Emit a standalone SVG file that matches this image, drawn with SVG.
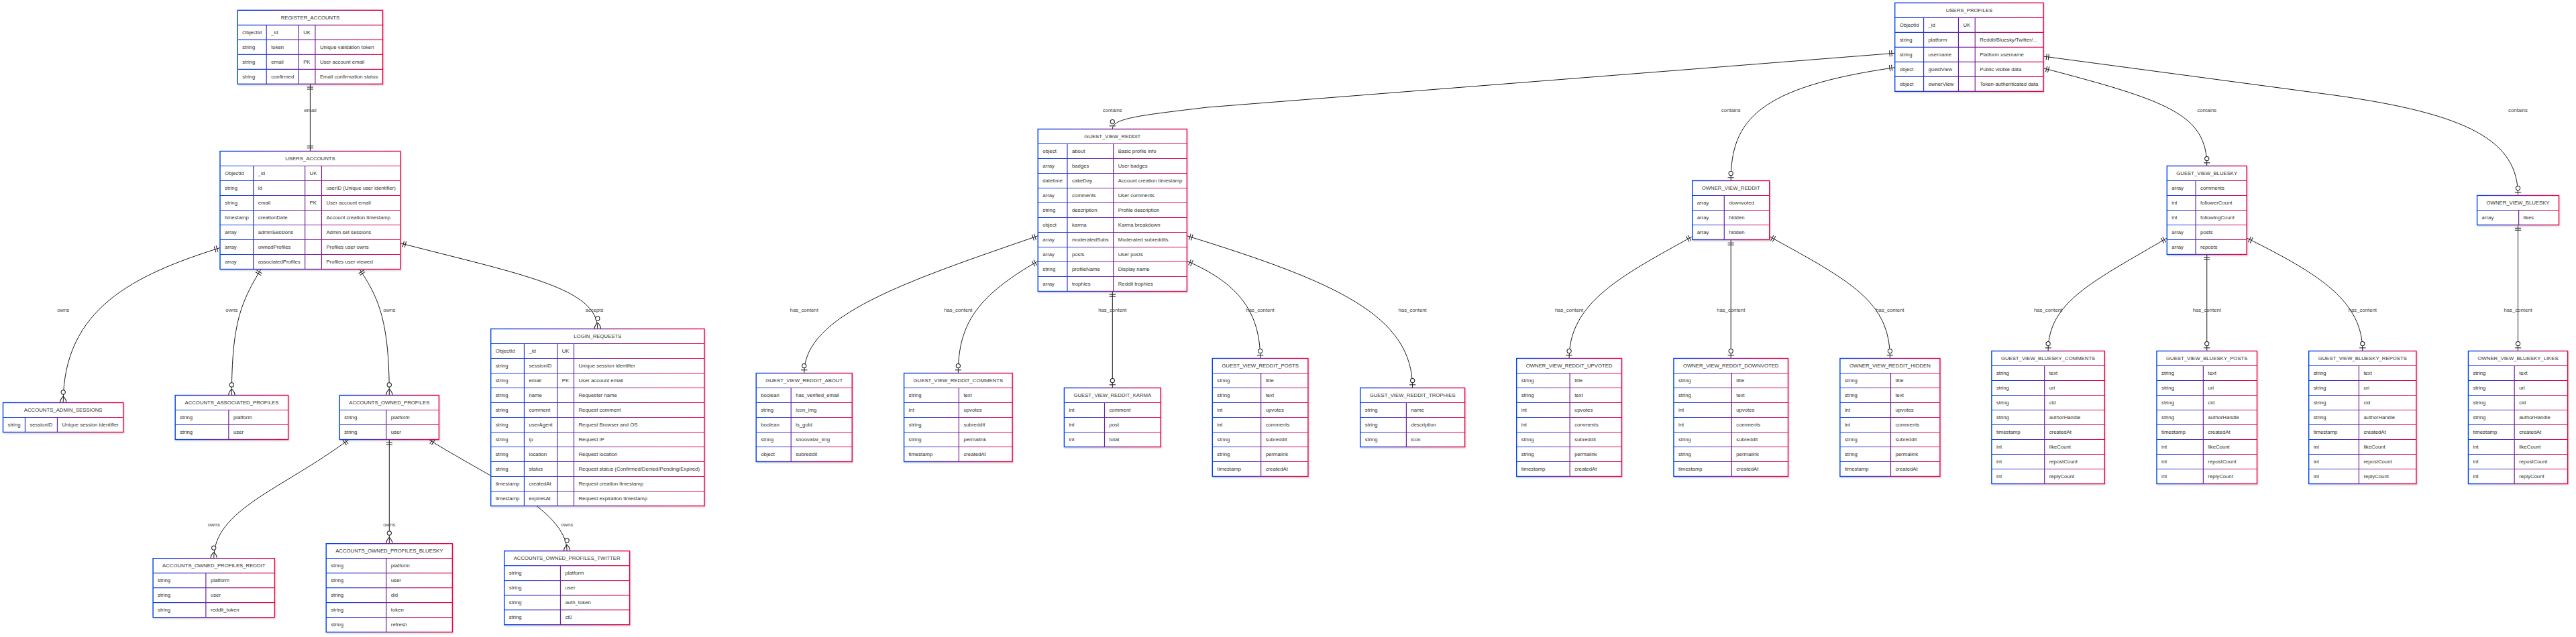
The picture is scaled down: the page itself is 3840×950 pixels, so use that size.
<svg xmlns="http://www.w3.org/2000/svg" width="3840" height="950" viewBox="0 0 3840 950">
<defs>
<style>
.b{fill:#fff;stroke-width:1.4;filter:url(#sh)}
.l{fill:none;stroke-width:1.2}
text{font-family:"Liberation Sans",Arial,Helvetica,sans-serif;font-size:7.75px;fill:#333;dominant-baseline:central}
.h{text-anchor:middle}
.e{fill:none;stroke:#1a1a1a;stroke-width:1}
.lb{text-anchor:middle;fill:#444}
.m{stroke:#1a1a1a;stroke-width:2;fill:none}
.mc{stroke:#1a1a1a;stroke-width:2;fill:#fff}
</style>
<linearGradient id="gb"><stop offset="0" stop-color="#0042eb"/><stop offset="1" stop-color="#eb0042"/></linearGradient>
<linearGradient id="gRA" href="#gb" gradientUnits="userSpaceOnUse" x1="354.3" y1="0" x2="570.5" y2="0"/>
<linearGradient id="gUA" href="#gb" gradientUnits="userSpaceOnUse" x1="328" y1="0" x2="596.8" y2="0"/>
<linearGradient id="gAS" href="#gb" gradientUnits="userSpaceOnUse" x1="4.5" y1="0" x2="183.85" y2="0"/>
<linearGradient id="gAP" href="#gb" gradientUnits="userSpaceOnUse" x1="261.2" y1="0" x2="429.6" y2="0"/>
<linearGradient id="gOP" href="#gb" gradientUnits="userSpaceOnUse" x1="506.25" y1="0" x2="654.35" y2="0"/>
<linearGradient id="gLR" href="#gb" gradientUnits="userSpaceOnUse" x1="731.7" y1="0" x2="1050" y2="0"/>
<linearGradient id="gOR" href="#gb" gradientUnits="userSpaceOnUse" x1="228.1" y1="0" x2="409.4" y2="0"/>
<linearGradient id="gOB" href="#gb" gradientUnits="userSpaceOnUse" x1="486.2" y1="0" x2="674.4" y2="0"/>
<linearGradient id="gOT" href="#gb" gradientUnits="userSpaceOnUse" x1="751.7" y1="0" x2="938.6" y2="0"/>
<linearGradient id="gUP" href="#gb" gradientUnits="userSpaceOnUse" x1="2824.7" y1="0" x2="3046.1" y2="0"/>
<linearGradient id="gGR" href="#gb" gradientUnits="userSpaceOnUse" x1="1547.26" y1="0" x2="1769.34" y2="0"/>
<linearGradient id="gOVR" href="#gb" gradientUnits="userSpaceOnUse" x1="2522.7" y1="0" x2="2637.7" y2="0"/>
<linearGradient id="gGB" href="#gb" gradientUnits="userSpaceOnUse" x1="3230.3" y1="0" x2="3349.2" y2="0"/>
<linearGradient id="gOVB" href="#gb" gradientUnits="userSpaceOnUse" x1="3692.6" y1="0" x2="3814.5" y2="0"/>
<linearGradient id="gAB" href="#gb" gradientUnits="userSpaceOnUse" x1="1127.2" y1="0" x2="1270.2" y2="0"/>
<linearGradient id="gGC" href="#gb" gradientUnits="userSpaceOnUse" x1="1347.6" y1="0" x2="1509.1" y2="0"/>
<linearGradient id="gGK" href="#gb" gradientUnits="userSpaceOnUse" x1="1586.4" y1="0" x2="1730.2" y2="0"/>
<linearGradient id="gGP" href="#gb" gradientUnits="userSpaceOnUse" x1="1807.3" y1="0" x2="1949.9" y2="0"/>
<linearGradient id="gGT" href="#gb" gradientUnits="userSpaceOnUse" x1="2027.7" y1="0" x2="2183.6" y2="0"/>
<linearGradient id="gUV" href="#gb" gradientUnits="userSpaceOnUse" x1="2260.7" y1="0" x2="2417.45" y2="0"/>
<linearGradient id="gDV" href="#gb" gradientUnits="userSpaceOnUse" x1="2494.94" y1="0" x2="2665.46" y2="0"/>
<linearGradient id="gHD" href="#gb" gradientUnits="userSpaceOnUse" x1="2742.9" y1="0" x2="2891.9" y2="0"/>
<linearGradient id="gBC" href="#gb" gradientUnits="userSpaceOnUse" x1="2968.9" y1="0" x2="3137.3" y2="0"/>
<linearGradient id="gBP" href="#gb" gradientUnits="userSpaceOnUse" x1="3215.02" y1="0" x2="3364.48" y2="0"/>
<linearGradient id="gBR" href="#gb" gradientUnits="userSpaceOnUse" x1="3441.69" y1="0" x2="3601.91" y2="0"/>
<linearGradient id="gBL" href="#gb" gradientUnits="userSpaceOnUse" x1="3679.47" y1="0" x2="3827.63" y2="0"/>
<filter id="sh" x="-10%" y="-10%" width="125%" height="125%"><feDropShadow dx="1" dy="1.5" stdDeviation="1" flood-color="#000" flood-opacity="0.18"/></filter>
<marker id="oneS" viewBox="0 0 18 18" markerUnits="userSpaceOnUse" markerWidth="9.36" markerHeight="9.36" refX="0" refY="9" orient="auto" overflow="visible"><path class="m" d="M9,0 L9,18 M15,0 L15,18"/></marker>
<marker id="oneE" viewBox="0 0 18 18" markerUnits="userSpaceOnUse" markerWidth="9.36" markerHeight="9.36" refX="18" refY="9" orient="auto" overflow="visible"><path class="m" d="M3,0 L3,18 M9,0 L9,18"/></marker>
<marker id="zoE" viewBox="0 0 30 18" markerUnits="userSpaceOnUse" markerWidth="15.6" markerHeight="9.36" refX="30" refY="9" orient="auto" overflow="visible"><circle class="mc" cx="9" cy="9" r="6"/><path class="m" d="M21,0 L21,18"/></marker>
<marker id="zmE" viewBox="0 0 57 36" markerUnits="userSpaceOnUse" markerWidth="29.64" markerHeight="18.72" refX="39" refY="18" orient="auto" overflow="visible"><circle class="mc" cx="9" cy="18" r="6"/><path class="m" d="M21,18 Q39,0 57,18 Q39,36 21,18"/></marker>
</defs>
<rect width="3840" height="950" fill="#fff"/>

<g id="connectors">
<path class="e" d="M462.4 125.3V225.5" marker-start="url(#oneS)" marker-end="url(#oneE)"/>
<path class="e" d="M328 369.5C200 410 94.2 460 94.2 600.5" marker-start="url(#oneS)" marker-end="url(#zmE)"/>
<path class="e" d="M389 401.5C360 450 345.4 480 345.4 589.5" marker-start="url(#oneS)" marker-end="url(#zmE)"/>
<path class="e" d="M536 401.5C565 445 580.3 480 580.3 589.5" marker-start="url(#oneS)" marker-end="url(#zmE)"/>
<path class="e" d="M596.8 362.7C780 410 890.85 430 890.85 490.5" marker-start="url(#oneS)" marker-end="url(#zmE)"/>
<path class="e" d="M520 655.5C420 730 318.75 760 318.75 832.7" marker-start="url(#oneS)" marker-end="url(#zmE)"/>
<path class="e" d="M580.3 655.5V810.7" marker-start="url(#oneS)" marker-end="url(#zmE)"/>
<path class="e" d="M639.3 655.5C720 707 845.15 760 845.15 821.7" marker-start="url(#oneS)" marker-end="url(#zmE)"/>
<path class="e" d="M2824.7 79.3L1800 160C1700 172 1658.3 176 1658.3 192.5" marker-start="url(#oneS)" marker-end="url(#zoE)"/>
<path class="e" d="M2824.7 100.7C2620 130 2580.2 180 2580.2 269.5" marker-start="url(#oneS)" marker-end="url(#zoE)"/>
<path class="e" d="M3046.1 84L3480 142C3680 170 3753.55 210 3753.55 291.5" marker-start="url(#oneS)" marker-end="url(#zoE)"/>
<path class="e" d="M3046.1 101.7C3230 150 3289.75 170 3289.75 247.5" marker-start="url(#oneS)" marker-end="url(#zoE)"/>
<path class="e" d="M1547.26 351.7C1350 420 1198.7 470 1198.7 556.5" marker-start="url(#oneS)" marker-end="url(#zoE)"/>
<path class="e" d="M1547.26 389.3C1460 440 1428.35 480 1428.35 556.5" marker-start="url(#oneS)" marker-end="url(#zoE)"/>
<path class="e" d="M1658.3 434.5V578.5" marker-start="url(#oneS)" marker-end="url(#zoE)"/>
<path class="e" d="M1769.34 389.3C1840 420 1878.6 460 1878.6 534.5" marker-start="url(#oneS)" marker-end="url(#zoE)"/>
<path class="e" d="M1769.34 351.7C1990 420 2105.65 470 2105.65 578.5" marker-start="url(#oneS)" marker-end="url(#zoE)"/>
<path class="e" d="M2522.7 352.7C2420 410 2339.1 450 2339.1 534.5" marker-start="url(#oneS)" marker-end="url(#zoE)"/>
<path class="e" d="M2580.2 357.5V534.5" marker-start="url(#oneS)" marker-end="url(#zoE)"/>
<path class="e" d="M2637.7 352.7C2760 420 2817.4 450 2817.4 534.5" marker-start="url(#oneS)" marker-end="url(#zoE)"/>
<path class="e" d="M3230.3 355C3120 420 3053.1 450 3053.1 523.5" marker-start="url(#oneS)" marker-end="url(#zoE)"/>
<path class="e" d="M3289.75 379.5V523.5" marker-start="url(#oneS)" marker-end="url(#zoE)"/>
<path class="e" d="M3349.2 355C3460 410 3521.8 450 3521.8 523.5" marker-start="url(#oneS)" marker-end="url(#zoE)"/>
<path class="e" d="M3753.55 335.5V523.5" marker-start="url(#oneS)" marker-end="url(#zoE)"/>
<text class="lb" x="462.4" y="164.7">email</text>
<text class="lb" x="94.2" y="462.5">owns</text>
<text class="lb" x="345.4" y="462.5">owns</text>
<text class="lb" x="580.3" y="462.5">owns</text>
<text class="lb" x="886" y="462.5">accepts</text>
<text class="lb" x="318.75" y="782.7">owns</text>
<text class="lb" x="580.3" y="782.7">owns</text>
<text class="lb" x="845.15" y="782.7">owns</text>
<text class="lb" x="1658.3" y="164.7">contains</text>
<text class="lb" x="2580.2" y="164.7">contains</text>
<text class="lb" x="3289.75" y="164.7">contains</text>
<text class="lb" x="3753.55" y="164.7">contains</text>
<text class="lb" x="1198.7" y="462.5">has_content</text>
<text class="lb" x="1428.35" y="462.5">has_content</text>
<text class="lb" x="1658.3" y="462.5">has_content</text>
<text class="lb" x="1878.6" y="462.5">has_content</text>
<text class="lb" x="2105.65" y="462.5">has_content</text>
<text class="lb" x="2339.1" y="462.5">has_content</text>
<text class="lb" x="2580.2" y="462.5">has_content</text>
<text class="lb" x="2817.4" y="462.5">has_content</text>
<text class="lb" x="3053.1" y="462.5">has_content</text>
<text class="lb" x="3289.75" y="462.5">has_content</text>
<text class="lb" x="3521.8" y="462.5">has_content</text>
<text class="lb" x="3753.55" y="462.5">has_content</text>
</g>

<g id="REGISTER_ACCOUNTS">
<rect class="b" x="354.3" y="15.3" width="216.2" height="110" stroke="url(#gRA)"/>
<path class="l" stroke="url(#gRA)" d="M354.3 37.3H570.5M354.3 59.3H570.5M354.3 81.3H570.5M354.3 103.3H570.5M397.2 37.3V125.3M445.2 37.3V125.3M469.9 37.3V125.3"/>
<text class="h" x="462.4" y="26.3">REGISTER_ACCOUNTS</text>
<text x="361.3" y="48.3">ObjectId</text><text x="404.2" y="48.3">_id</text><text x="452.2" y="48.3">UK</text>
<text x="361.3" y="70.3">string</text><text x="404.2" y="70.3">token</text><text x="476.9" y="70.3">Unique validation token</text>
<text x="361.3" y="92.3">string</text><text x="404.2" y="92.3">email</text><text x="452.2" y="92.3">PK</text><text x="476.9" y="92.3">User account email</text>
<text x="361.3" y="114.3">string</text><text x="404.2" y="114.3">confirmed</text><text x="476.9" y="114.3">Email confirmation status</text>
</g>

<g id="USERS_ACCOUNTS">
<rect class="b" x="328" y="225.5" width="268.8" height="176" stroke="url(#gUA)"/>
<path class="l" stroke="url(#gUA)" d="M328 247.5H596.8M328 269.5H596.8M328 291.5H596.8M328 313.5H596.8M328 335.5H596.8M328 357.5H596.8M328 379.5H596.8M377.74 247.5V401.5M454.64 247.5V401.5M479.4 247.5V401.5"/>
<text class="h" x="462.4" y="236.5">USERS_ACCOUNTS</text>
<text x="335" y="258.5">ObjectId</text><text x="384.7" y="258.5">_id</text><text x="461.6" y="258.5">UK</text>
<text x="335" y="280.5">string</text><text x="384.7" y="280.5">id</text><text x="486.4" y="280.5">userID (Unique user identifier)</text>
<text x="335" y="302.5">string</text><text x="384.7" y="302.5">email</text><text x="461.6" y="302.5">PK</text><text x="486.4" y="302.5">User account email</text>
<text x="335" y="324.5">timestamp</text><text x="384.7" y="324.5">creationDate</text><text x="486.4" y="324.5">Account creation timestamp</text>
<text x="335" y="346.5">array</text><text x="384.7" y="346.5">adminSessions</text><text x="486.4" y="346.5">Admin set sessions</text>
<text x="335" y="368.5">array</text><text x="384.7" y="368.5">ownedProfiles</text><text x="486.4" y="368.5">Profiles user owns</text>
<text x="335" y="390.5">array</text><text x="384.7" y="390.5">associatedProfiles</text><text x="486.4" y="390.5">Profiles user viewed</text>
</g>

<g id="ACCOUNTS_ADMIN_SESSIONS">
<rect class="b" x="4.5" y="600.5" width="179.35" height="44" stroke="url(#gAS)"/>
<path class="l" stroke="url(#gAS)" d="M4.5 622.5H183.85M37.45 622.5V644.5M85.45 622.5V644.5"/>
<text class="h" x="94.2" y="611.5">ACCOUNTS_ADMIN_SESSIONS</text>
<text x="11.5" y="633.5">string</text><text x="44.45" y="633.5">sessionID</text><text x="92.45" y="633.5">Unique session identifier</text>
</g>

<g id="ACCOUNTS_ASSOCIATED_PROFILES">
<rect class="b" x="261.2" y="589.5" width="168.4" height="66" stroke="url(#gAP)"/>
<path class="l" stroke="url(#gAP)" d="M261.2 611.5H429.6M261.2 633.5H429.6M340.87 611.5V655.5"/>
<text class="h" x="345.4" y="600.5">ACCOUNTS_ASSOCIATED_PROFILES</text>
<text x="268.2" y="622.5">string</text><text x="347.9" y="622.5">platform</text>
<text x="268.2" y="644.5">string</text><text x="347.9" y="644.5">user</text>
</g>

<g id="ACCOUNTS_OWNED_PROFILES">
<rect class="b" x="506.25" y="589.5" width="148.1" height="66" stroke="url(#gOP)"/>
<path class="l" stroke="url(#gOP)" d="M506.25 611.5H654.35M506.25 633.5H654.35M575.8 611.5V655.5"/>
<text class="h" x="580.3" y="600.5">ACCOUNTS_OWNED_PROFILES</text>
<text x="513.25" y="622.5">string</text><text x="582.8" y="622.5">platform</text>
<text x="513.25" y="644.5">string</text><text x="582.8" y="644.5">user</text>
</g>

<g id="LOGIN_REQUESTS">
<rect class="b" x="731.7" y="490.5" width="318.3" height="264" stroke="url(#gLR)"/>
<path class="l" stroke="url(#gLR)" d="M731.7 512.5H1050M731.7 534.5H1050M731.7 556.5H1050M731.7 578.5H1050M731.7 600.5H1050M731.7 622.5H1050M731.7 644.5H1050M731.7 666.5H1050M731.7 688.5H1050M731.7 710.5H1050M731.7 732.5H1050M781.44 512.5V754.5M830.76 512.5V754.5M855.52 512.5V754.5"/>
<text class="h" x="890.85" y="501.5">LOGIN_REQUESTS</text>
<text x="738.7" y="523.5">ObjectId</text><text x="788.44" y="523.5">_id</text><text x="837.76" y="523.5">UK</text>
<text x="738.7" y="545.5">string</text><text x="788.44" y="545.5">sessionID</text><text x="862.52" y="545.5">Unique session identifier</text>
<text x="738.7" y="567.5">string</text><text x="788.44" y="567.5">email</text><text x="837.76" y="567.5">PK</text><text x="862.52" y="567.5">User account email</text>
<text x="738.7" y="589.5">string</text><text x="788.44" y="589.5">name</text><text x="862.52" y="589.5">Requester name</text>
<text x="738.7" y="611.5">string</text><text x="788.44" y="611.5">comment</text><text x="862.52" y="611.5">Request comment</text>
<text x="738.7" y="633.5">string</text><text x="788.44" y="633.5">userAgent</text><text x="862.52" y="633.5">Request Browser and OS</text>
<text x="738.7" y="655.5">string</text><text x="788.44" y="655.5">ip</text><text x="862.52" y="655.5">Request IP</text>
<text x="738.7" y="677.5">string</text><text x="788.44" y="677.5">location</text><text x="862.52" y="677.5">Request location</text>
<text x="738.7" y="699.5">string</text><text x="788.44" y="699.5">status</text><text x="862.52" y="699.5">Request status (Confirmed/Denied/Pending/Expired)</text>
<text x="738.7" y="721.5">timestamp</text><text x="788.44" y="721.5">createdAt</text><text x="862.52" y="721.5">Request creation timestamp</text>
<text x="738.7" y="743.5">timestamp</text><text x="788.44" y="743.5">expiresAt</text><text x="862.52" y="743.5">Request expiration timestamp</text>
</g>

<g id="ACCOUNTS_OWNED_PROFILES_REDDIT">
<rect class="b" x="228.1" y="832.7" width="181.3" height="88" stroke="url(#gOR)"/>
<path class="l" stroke="url(#gOR)" d="M228.1 854.7H409.4M228.1 876.7H409.4M228.1 898.7H409.4M306.9 854.7V920.7"/>
<text class="h" x="318.75" y="843.7">ACCOUNTS_OWNED_PROFILES_REDDIT</text>
<text x="235.1" y="865.7">string</text><text x="313.9" y="865.7">platform</text>
<text x="235.1" y="887.7">string</text><text x="313.9" y="887.7">user</text>
<text x="235.1" y="909.7">string</text><text x="313.9" y="909.7">reddit_token</text>
</g>

<g id="ACCOUNTS_OWNED_PROFILES_BLUESKY">
<rect class="b" x="486.2" y="810.7" width="188.2" height="132" stroke="url(#gOB)"/>
<path class="l" stroke="url(#gOB)" d="M486.2 832.7H674.4M486.2 854.7H674.4M486.2 876.7H674.4M486.2 898.7H674.4M486.2 920.7H674.4M575.8 832.7V942.7"/>
<text class="h" x="580.3" y="821.7">ACCOUNTS_OWNED_PROFILES_BLUESKY</text>
<text x="493.2" y="843.7">string</text><text x="582.8" y="843.7">platform</text>
<text x="493.2" y="865.7">string</text><text x="582.8" y="865.7">user</text>
<text x="493.2" y="887.7">string</text><text x="582.8" y="887.7">did</text>
<text x="493.2" y="909.7">string</text><text x="582.8" y="909.7">token</text>
<text x="493.2" y="931.7">string</text><text x="582.8" y="931.7">refresh</text>
</g>

<g id="ACCOUNTS_OWNED_PROFILES_TWITTER">
<rect class="b" x="751.7" y="821.7" width="186.9" height="110" stroke="url(#gOT)"/>
<path class="l" stroke="url(#gOT)" d="M751.7 843.7H938.6M751.7 865.7H938.6M751.7 887.7H938.6M751.7 909.7H938.6M835.45 843.7V931.7"/>
<text class="h" x="845.15" y="832.7">ACCOUNTS_OWNED_PROFILES_TWITTER</text>
<text x="758.7" y="854.7">string</text><text x="842.45" y="854.7">platform</text>
<text x="758.7" y="876.7">string</text><text x="842.45" y="876.7">user</text>
<text x="758.7" y="898.7">string</text><text x="842.45" y="898.7">auth_token</text>
<text x="758.7" y="920.7">string</text><text x="842.45" y="920.7">ct0</text>
</g>

<g id="USERS_PROFILES">
<rect class="b" x="2824.7" y="4.3" width="221.4" height="132" stroke="url(#gUP)"/>
<path class="l" stroke="url(#gUP)" d="M2824.7 26.3H3046.1M2824.7 48.3H3046.1M2824.7 70.3H3046.1M2824.7 92.3H3046.1M2824.7 114.3H3046.1M2867.56 26.3V136.3M2919.46 26.3V136.3M2944.22 26.3V136.3"/>
<text class="h" x="2935.4" y="15.3">USERS_PROFILES</text>
<text x="2831.7" y="37.3">ObjectId</text><text x="2874.56" y="37.3">_id</text><text x="2926.46" y="37.3">UK</text>
<text x="2831.7" y="59.3">string</text><text x="2874.56" y="59.3">platform</text><text x="2951.22" y="59.3">Reddit/Bluesky/Twitter/...</text>
<text x="2831.7" y="81.3">string</text><text x="2874.56" y="81.3">username</text><text x="2951.22" y="81.3">Platform username</text>
<text x="2831.7" y="103.3">object</text><text x="2874.56" y="103.3">guestView</text><text x="2951.22" y="103.3">Public visible data</text>
<text x="2831.7" y="125.3">object</text><text x="2874.56" y="125.3">ownerView</text><text x="2951.22" y="125.3">Token-authenticated data</text>
</g>

<g id="GUEST_VIEW_REDDIT">
<rect class="b" x="1547.26" y="192.5" width="222.08" height="242" stroke="url(#gGR)"/>
<path class="l" stroke="url(#gGR)" d="M1547.26 214.5H1769.34M1547.26 236.5H1769.34M1547.26 258.5H1769.34M1547.26 280.5H1769.34M1547.26 302.5H1769.34M1547.26 324.5H1769.34M1547.26 346.5H1769.34M1547.26 368.5H1769.34M1547.26 390.5H1769.34M1547.26 412.5H1769.34M1590.98 214.5V434.5M1659.72 214.5V434.5"/>
<text class="h" x="1658.3" y="203.5">GUEST_VIEW_REDDIT</text>
<text x="1554.26" y="225.5">object</text><text x="1597.98" y="225.5">about</text><text x="1666.72" y="225.5">Basic profile info</text>
<text x="1554.26" y="247.5">array</text><text x="1597.98" y="247.5">badges</text><text x="1666.72" y="247.5">User badges</text>
<text x="1554.26" y="269.5">datetime</text><text x="1597.98" y="269.5">cakeDay</text><text x="1666.72" y="269.5">Account creation timestamp</text>
<text x="1554.26" y="291.5">array</text><text x="1597.98" y="291.5">comments</text><text x="1666.72" y="291.5">User comments</text>
<text x="1554.26" y="313.5">string</text><text x="1597.98" y="313.5">description</text><text x="1666.72" y="313.5">Profile description</text>
<text x="1554.26" y="335.5">object</text><text x="1597.98" y="335.5">karma</text><text x="1666.72" y="335.5">Karma breakdown</text>
<text x="1554.26" y="357.5">array</text><text x="1597.98" y="357.5">moderatedSubs</text><text x="1666.72" y="357.5">Moderated subreddits</text>
<text x="1554.26" y="379.5">array</text><text x="1597.98" y="379.5">posts</text><text x="1666.72" y="379.5">User posts</text>
<text x="1554.26" y="401.5">string</text><text x="1597.98" y="401.5">profileName</text><text x="1666.72" y="401.5">Display name</text>
<text x="1554.26" y="423.5">array</text><text x="1597.98" y="423.5">trophies</text><text x="1666.72" y="423.5">Reddit trophies</text>
</g>

<g id="OWNER_VIEW_REDDIT">
<rect class="b" x="2522.7" y="269.5" width="115" height="88" stroke="url(#gOVR)"/>
<path class="l" stroke="url(#gOVR)" d="M2522.7 291.5H2637.7M2522.7 313.5H2637.7M2522.7 335.5H2637.7M2570.28 291.5V357.5"/>
<text class="h" x="2580.2" y="280.5">OWNER_VIEW_REDDIT</text>
<text x="2529.7" y="302.5">array</text><text x="2577.28" y="302.5">downvoted</text>
<text x="2529.7" y="324.5">array</text><text x="2577.28" y="324.5">hidden</text>
<text x="2529.7" y="346.5">array</text><text x="2577.28" y="346.5">hidden</text>
</g>

<g id="GUEST_VIEW_BLUESKY">
<rect class="b" x="3230.3" y="247.5" width="118.9" height="132" stroke="url(#gGB)"/>
<path class="l" stroke="url(#gGB)" d="M3230.3 269.5H3349.2M3230.3 291.5H3349.2M3230.3 313.5H3349.2M3230.3 335.5H3349.2M3230.3 357.5H3349.2M3273.08 269.5V379.5"/>
<text class="h" x="3289.75" y="258.5">GUEST_VIEW_BLUESKY</text>
<text x="3237.3" y="280.5">array</text><text x="3280.08" y="280.5">comments</text>
<text x="3237.3" y="302.5">int</text><text x="3280.08" y="302.5">followerCount</text>
<text x="3237.3" y="324.5">int</text><text x="3280.08" y="324.5">followingCount</text>
<text x="3237.3" y="346.5">array</text><text x="3280.08" y="346.5">posts</text>
<text x="3237.3" y="368.5">array</text><text x="3280.08" y="368.5">reposts</text>
</g>

<g id="OWNER_VIEW_BLUESKY">
<rect class="b" x="3692.6" y="291.5" width="121.9" height="44" stroke="url(#gOVB)"/>
<path class="l" stroke="url(#gOVB)" d="M3692.6 313.5H3814.5M3754.62 313.5V335.5"/>
<text class="h" x="3753.55" y="302.5">OWNER_VIEW_BLUESKY</text>
<text x="3699.6" y="324.5">array</text><text x="3761.62" y="324.5">likes</text>
</g>

<g id="GUEST_VIEW_REDDIT_ABOUT">
<rect class="b" x="1127.2" y="556.5" width="143" height="132" stroke="url(#gAB)"/>
<path class="l" stroke="url(#gAB)" d="M1127.2 578.5H1270.2M1127.2 600.5H1270.2M1127.2 622.5H1270.2M1127.2 644.5H1270.2M1127.2 666.5H1270.2M1179.19 578.5V688.5"/>
<text class="h" x="1198.7" y="567.5">GUEST_VIEW_REDDIT_ABOUT</text>
<text x="1134.2" y="589.5">boolean</text><text x="1186.19" y="589.5">has_verified_email</text>
<text x="1134.2" y="611.5">string</text><text x="1186.19" y="611.5">icon_img</text>
<text x="1134.2" y="633.5">boolean</text><text x="1186.19" y="633.5">is_gold</text>
<text x="1134.2" y="655.5">string</text><text x="1186.19" y="655.5">snoovatar_img</text>
<text x="1134.2" y="677.5">object</text><text x="1186.19" y="677.5">subreddit</text>
</g>

<g id="GUEST_VIEW_REDDIT_COMMENTS">
<rect class="b" x="1347.6" y="556.5" width="161.5" height="132" stroke="url(#gGC)"/>
<path class="l" stroke="url(#gGC)" d="M1347.6 578.5H1509.1M1347.6 600.5H1509.1M1347.6 622.5H1509.1M1347.6 644.5H1509.1M1347.6 666.5H1509.1M1429.42 578.5V688.5"/>
<text class="h" x="1428.35" y="567.5">GUEST_VIEW_REDDIT_COMMENTS</text>
<text x="1354.6" y="589.5">string</text><text x="1436.42" y="589.5">text</text>
<text x="1354.6" y="611.5">int</text><text x="1436.42" y="611.5">upvotes</text>
<text x="1354.6" y="633.5">string</text><text x="1436.42" y="633.5">subreddit</text>
<text x="1354.6" y="655.5">string</text><text x="1436.42" y="655.5">permalink</text>
<text x="1354.6" y="677.5">timestamp</text><text x="1436.42" y="677.5">createdAt</text>
</g>

<g id="GUEST_VIEW_REDDIT_KARMA">
<rect class="b" x="1586.4" y="578.5" width="143.8" height="88" stroke="url(#gGK)"/>
<path class="l" stroke="url(#gGK)" d="M1586.4 600.5H1730.2M1586.4 622.5H1730.2M1586.4 644.5H1730.2M1646.48 600.5V666.5"/>
<text class="h" x="1658.3" y="589.5">GUEST_VIEW_REDDIT_KARMA</text>
<text x="1593.4" y="611.5">int</text><text x="1653.48" y="611.5">comment</text>
<text x="1593.4" y="633.5">int</text><text x="1653.48" y="633.5">post</text>
<text x="1593.4" y="655.5">int</text><text x="1653.48" y="655.5">total</text>
</g>

<g id="GUEST_VIEW_REDDIT_POSTS">
<rect class="b" x="1807.3" y="534.5" width="142.6" height="176" stroke="url(#gGP)"/>
<path class="l" stroke="url(#gGP)" d="M1807.3 556.5H1949.9M1807.3 578.5H1949.9M1807.3 600.5H1949.9M1807.3 622.5H1949.9M1807.3 644.5H1949.9M1807.3 666.5H1949.9M1807.3 688.5H1949.9M1879.65 556.5V710.5"/>
<text class="h" x="1878.6" y="545.5">GUEST_VIEW_REDDIT_POSTS</text>
<text x="1814.3" y="567.5">string</text><text x="1886.65" y="567.5">title</text>
<text x="1814.3" y="589.5">string</text><text x="1886.65" y="589.5">text</text>
<text x="1814.3" y="611.5">int</text><text x="1886.65" y="611.5">upvotes</text>
<text x="1814.3" y="633.5">int</text><text x="1886.65" y="633.5">comments</text>
<text x="1814.3" y="655.5">string</text><text x="1886.65" y="655.5">subreddit</text>
<text x="1814.3" y="677.5">string</text><text x="1886.65" y="677.5">permalink</text>
<text x="1814.3" y="699.5">timestamp</text><text x="1886.65" y="699.5">createdAt</text>
</g>

<g id="GUEST_VIEW_REDDIT_TROPHIES">
<rect class="b" x="2027.7" y="578.5" width="155.9" height="88" stroke="url(#gGT)"/>
<path class="l" stroke="url(#gGT)" d="M2027.7 600.5H2183.6M2027.7 622.5H2183.6M2027.7 644.5H2183.6M2096.39 600.5V666.5"/>
<text class="h" x="2105.65" y="589.5">GUEST_VIEW_REDDIT_TROPHIES</text>
<text x="2034.7" y="611.5">string</text><text x="2103.39" y="611.5">name</text>
<text x="2034.7" y="633.5">string</text><text x="2103.39" y="633.5">description</text>
<text x="2034.7" y="655.5">string</text><text x="2103.39" y="655.5">icon</text>
</g>

<g id="OWNER_VIEW_REDDIT_UPVOTED">
<rect class="b" x="2260.7" y="534.5" width="156.75" height="176" stroke="url(#gUV)"/>
<path class="l" stroke="url(#gUV)" d="M2260.7 556.5H2417.45M2260.7 578.5H2417.45M2260.7 600.5H2417.45M2260.7 622.5H2417.45M2260.7 644.5H2417.45M2260.7 666.5H2417.45M2260.7 688.5H2417.45M2340.15 556.5V710.5"/>
<text class="h" x="2339.1" y="545.5">OWNER_VIEW_REDDIT_UPVOTED</text>
<text x="2267.7" y="567.5">string</text><text x="2347.15" y="567.5">title</text>
<text x="2267.7" y="589.5">string</text><text x="2347.15" y="589.5">text</text>
<text x="2267.7" y="611.5">int</text><text x="2347.15" y="611.5">upvotes</text>
<text x="2267.7" y="633.5">int</text><text x="2347.15" y="633.5">comments</text>
<text x="2267.7" y="655.5">string</text><text x="2347.15" y="655.5">subreddit</text>
<text x="2267.7" y="677.5">string</text><text x="2347.15" y="677.5">permalink</text>
<text x="2267.7" y="699.5">timestamp</text><text x="2347.15" y="699.5">createdAt</text>
</g>

<g id="OWNER_VIEW_REDDIT_DOWNVOTED">
<rect class="b" x="2494.94" y="534.5" width="170.52" height="176" stroke="url(#gDV)"/>
<path class="l" stroke="url(#gDV)" d="M2494.94 556.5H2665.46M2494.94 578.5H2665.46M2494.94 600.5H2665.46M2494.94 622.5H2665.46M2494.94 644.5H2665.46M2494.94 666.5H2665.46M2494.94 688.5H2665.46M2581.28 556.5V710.5"/>
<text class="h" x="2580.2" y="545.5">OWNER_VIEW_REDDIT_DOWNVOTED</text>
<text x="2501.94" y="567.5">string</text><text x="2588.28" y="567.5">title</text>
<text x="2501.94" y="589.5">string</text><text x="2588.28" y="589.5">text</text>
<text x="2501.94" y="611.5">int</text><text x="2588.28" y="611.5">upvotes</text>
<text x="2501.94" y="633.5">int</text><text x="2588.28" y="633.5">comments</text>
<text x="2501.94" y="655.5">string</text><text x="2588.28" y="655.5">subreddit</text>
<text x="2501.94" y="677.5">string</text><text x="2588.28" y="677.5">permalink</text>
<text x="2501.94" y="699.5">timestamp</text><text x="2588.28" y="699.5">createdAt</text>
</g>

<g id="OWNER_VIEW_REDDIT_HIDDEN">
<rect class="b" x="2742.9" y="534.5" width="149" height="176" stroke="url(#gHD)"/>
<path class="l" stroke="url(#gHD)" d="M2742.9 556.5H2891.9M2742.9 578.5H2891.9M2742.9 600.5H2891.9M2742.9 622.5H2891.9M2742.9 644.5H2891.9M2742.9 666.5H2891.9M2742.9 688.5H2891.9M2818.48 556.5V710.5"/>
<text class="h" x="2817.4" y="545.5">OWNER_VIEW_REDDIT_HIDDEN</text>
<text x="2749.9" y="567.5">string</text><text x="2825.48" y="567.5">title</text>
<text x="2749.9" y="589.5">string</text><text x="2825.48" y="589.5">text</text>
<text x="2749.9" y="611.5">int</text><text x="2825.48" y="611.5">upvotes</text>
<text x="2749.9" y="633.5">int</text><text x="2825.48" y="633.5">comments</text>
<text x="2749.9" y="655.5">string</text><text x="2825.48" y="655.5">subreddit</text>
<text x="2749.9" y="677.5">string</text><text x="2825.48" y="677.5">permalink</text>
<text x="2749.9" y="699.5">timestamp</text><text x="2825.48" y="699.5">createdAt</text>
</g>

<g id="GUEST_VIEW_BLUESKY_COMMENTS">
<rect class="b" x="2968.9" y="523.5" width="168.4" height="198" stroke="url(#gBC)"/>
<path class="l" stroke="url(#gBC)" d="M2968.9 545.5H3137.3M2968.9 567.5H3137.3M2968.9 589.5H3137.3M2968.9 611.5H3137.3M2968.9 633.5H3137.3M2968.9 655.5H3137.3M2968.9 677.5H3137.3M2968.9 699.5H3137.3M3047.71 545.5V721.5"/>
<text class="h" x="3053.1" y="534.5">GUEST_VIEW_BLUESKY_COMMENTS</text>
<text x="2975.9" y="556.5">string</text><text x="3054.71" y="556.5">text</text>
<text x="2975.9" y="578.5">string</text><text x="3054.71" y="578.5">uri</text>
<text x="2975.9" y="600.5">string</text><text x="3054.71" y="600.5">cid</text>
<text x="2975.9" y="622.5">string</text><text x="3054.71" y="622.5">authorHandle</text>
<text x="2975.9" y="644.5">timestamp</text><text x="3054.71" y="644.5">createdAt</text>
<text x="2975.9" y="666.5">int</text><text x="3054.71" y="666.5">likeCount</text>
<text x="2975.9" y="688.5">int</text><text x="3054.71" y="688.5">repostCount</text>
<text x="2975.9" y="710.5">int</text><text x="3054.71" y="710.5">replyCount</text>
</g>

<g id="GUEST_VIEW_BLUESKY_POSTS">
<rect class="b" x="3215.02" y="523.5" width="149.46" height="198" stroke="url(#gBP)"/>
<path class="l" stroke="url(#gBP)" d="M3215.02 545.5H3364.48M3215.02 567.5H3364.48M3215.02 589.5H3364.48M3215.02 611.5H3364.48M3215.02 633.5H3364.48M3215.02 655.5H3364.48M3215.02 677.5H3364.48M3215.02 699.5H3364.48M3284.36 545.5V721.5"/>
<text class="h" x="3289.75" y="534.5">GUEST_VIEW_BLUESKY_POSTS</text>
<text x="3222.02" y="556.5">string</text><text x="3291.36" y="556.5">text</text>
<text x="3222.02" y="578.5">string</text><text x="3291.36" y="578.5">uri</text>
<text x="3222.02" y="600.5">string</text><text x="3291.36" y="600.5">cid</text>
<text x="3222.02" y="622.5">string</text><text x="3291.36" y="622.5">authorHandle</text>
<text x="3222.02" y="644.5">timestamp</text><text x="3291.36" y="644.5">createdAt</text>
<text x="3222.02" y="666.5">int</text><text x="3291.36" y="666.5">likeCount</text>
<text x="3222.02" y="688.5">int</text><text x="3291.36" y="688.5">repostCount</text>
<text x="3222.02" y="710.5">int</text><text x="3291.36" y="710.5">replyCount</text>
</g>

<g id="GUEST_VIEW_BLUESKY_REPOSTS">
<rect class="b" x="3441.69" y="523.5" width="160.22" height="198" stroke="url(#gBR)"/>
<path class="l" stroke="url(#gBR)" d="M3441.69 545.5H3601.91M3441.69 567.5H3601.91M3441.69 589.5H3601.91M3441.69 611.5H3601.91M3441.69 633.5H3601.91M3441.69 655.5H3601.91M3441.69 677.5H3601.91M3441.69 699.5H3601.91M3516.41 545.5V721.5"/>
<text class="h" x="3521.8" y="534.5">GUEST_VIEW_BLUESKY_REPOSTS</text>
<text x="3448.69" y="556.5">string</text><text x="3523.41" y="556.5">text</text>
<text x="3448.69" y="578.5">string</text><text x="3523.41" y="578.5">uri</text>
<text x="3448.69" y="600.5">string</text><text x="3523.41" y="600.5">cid</text>
<text x="3448.69" y="622.5">string</text><text x="3523.41" y="622.5">authorHandle</text>
<text x="3448.69" y="644.5">timestamp</text><text x="3523.41" y="644.5">createdAt</text>
<text x="3448.69" y="666.5">int</text><text x="3523.41" y="666.5">likeCount</text>
<text x="3448.69" y="688.5">int</text><text x="3523.41" y="688.5">repostCount</text>
<text x="3448.69" y="710.5">int</text><text x="3523.41" y="710.5">replyCount</text>
</g>

<g id="OWNER_VIEW_BLUESKY_LIKES">
<rect class="b" x="3679.47" y="523.5" width="148.16" height="198" stroke="url(#gBL)"/>
<path class="l" stroke="url(#gBL)" d="M3679.47 545.5H3827.63M3679.47 567.5H3827.63M3679.47 589.5H3827.63M3679.47 611.5H3827.63M3679.47 633.5H3827.63M3679.47 655.5H3827.63M3679.47 677.5H3827.63M3679.47 699.5H3827.63M3748.16 545.5V721.5"/>
<text class="h" x="3753.55" y="534.5">OWNER_VIEW_BLUESKY_LIKES</text>
<text x="3686.47" y="556.5">string</text><text x="3755.16" y="556.5">text</text>
<text x="3686.47" y="578.5">string</text><text x="3755.16" y="578.5">uri</text>
<text x="3686.47" y="600.5">string</text><text x="3755.16" y="600.5">cid</text>
<text x="3686.47" y="622.5">string</text><text x="3755.16" y="622.5">authorHandle</text>
<text x="3686.47" y="644.5">timestamp</text><text x="3755.16" y="644.5">createdAt</text>
<text x="3686.47" y="666.5">int</text><text x="3755.16" y="666.5">likeCount</text>
<text x="3686.47" y="688.5">int</text><text x="3755.16" y="688.5">repostCount</text>
<text x="3686.47" y="710.5">int</text><text x="3755.16" y="710.5">replyCount</text>
</g>
</svg>
